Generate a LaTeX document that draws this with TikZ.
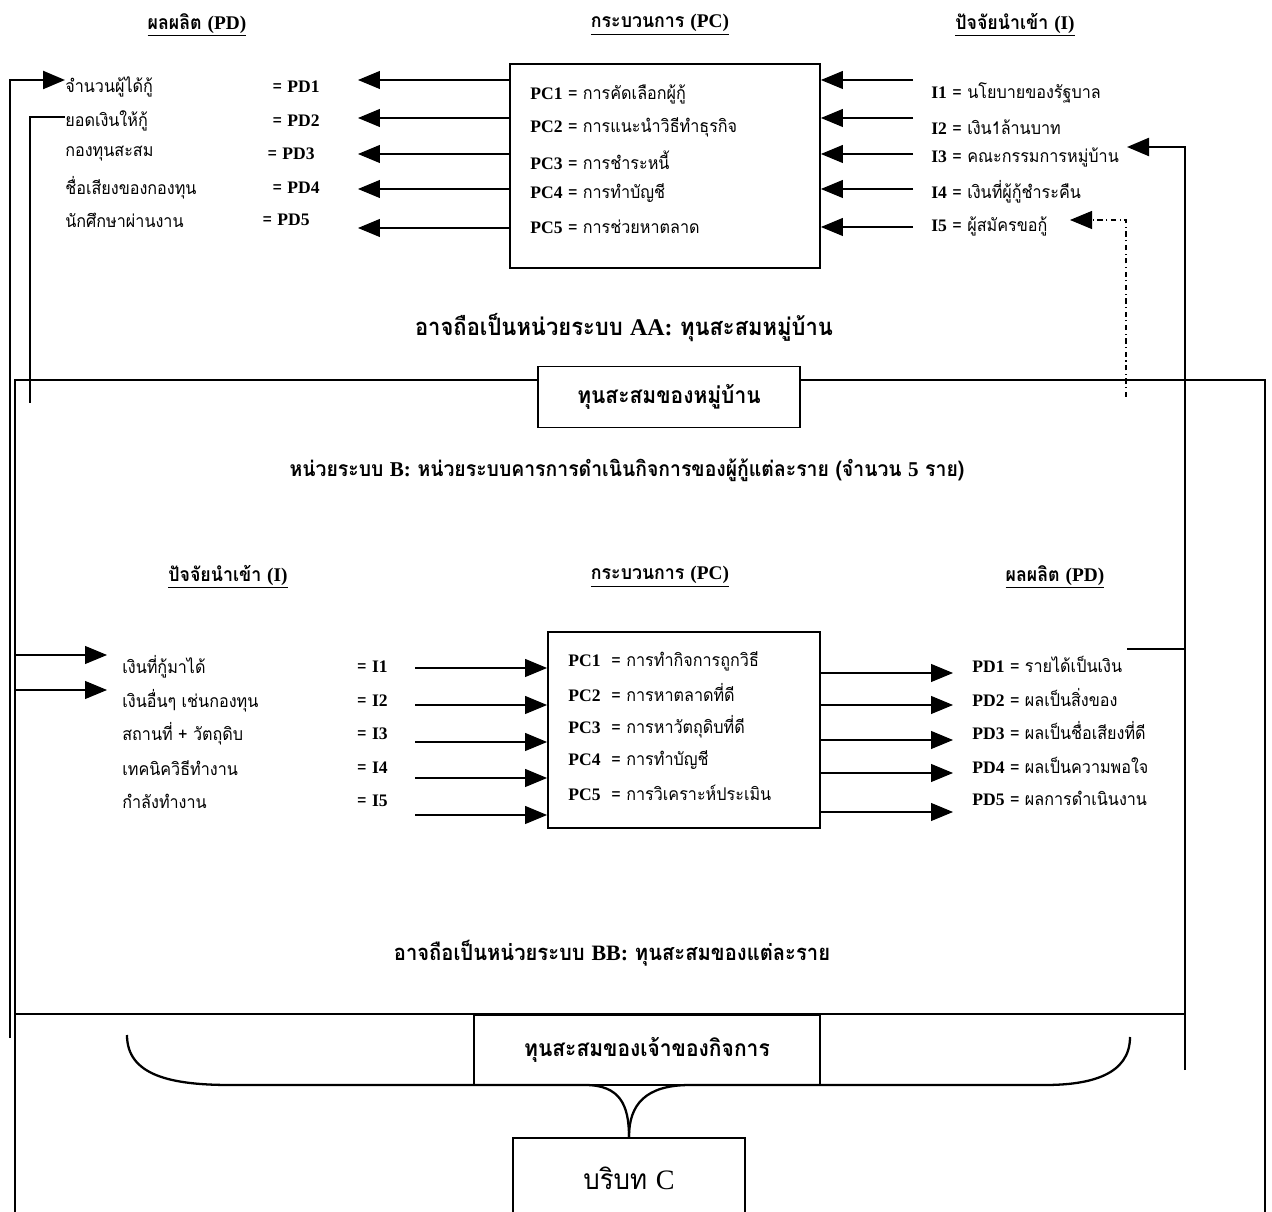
\documentclass[tikz,border=0pt]{standalone}
\usepackage{fontspec}
\setmainfont{Liberation Serif}
\newfontfamily\thaifont[Script=Thai,FakeStretch=0.92]{Loma}
\usetikzlibrary{arrows.meta}
\newcommand{\lab}[1]{{\rmfamily\bfseries #1}}

\tikzset{
  fat/.style={-{Triangle[length=0.44cm,width=0.36cm]}},
  conn/.style={line width=0.6pt},
  back/.style={line width=1.3pt},
  frame/.style={draw,line width=1.1pt,fill=white},
  item/.style={font=\thaifont\fontsize{10}{12}\selectfont,inner sep=0pt},
  head/.style={font=\thaifont\bfseries\fontsize{11}{13}\selectfont,inner sep=0pt},
  title/.style={font=\thaifont\bfseries\fontsize{13}{15}\selectfont,inner sep=0pt},
}

\begin{document}
\begin{tikzpicture}[x=0.02cm,y=-0.02cm]
\useasboundingbox (0,0) rectangle (1272,1212);

% frame of unit B and the outer context
\draw[line width=1.1pt] (15,1212) -- (15,380) -- (1265,380) -- (1265,1212);
\draw[line width=1.1pt] (15,1014) -- (1186,1014);

% upper unit A
\node[head] (hpdu) at (197,25) {\underline{ผลผลิต {\rmfamily (PD)}}};
\node[head] (hpcu) at (660,25) {\underline{กระบวนการ {\rmfamily (PC)}}};
\node[head] (hiu) at (1015,25) {\underline{ปัจจัยนำเข้า {\rmfamily (I)}}};

\node[frame,minimum width=6.2cm,minimum height=4.08cm] (pcup) at (665,166) {};
\foreach \y/\t [count=\i] in {94/การคัดเลือกผู้กู้,127/การแนะนำวิธีทำธุรกิจ,160/การชำระหนี้,193/การทำบัญชี,227/การช่วยหาตลาด}
  \node[item,anchor=west] (pcu\i) at (530,\y) {\lab{PC\i} = \t};

\foreach \y/\t/\x [count=\i] in {87/จำนวนผู้ได้กู้/320,121/ยอดเงินให้กู้/320,154/กองทุนสะสม/315,188/ชื่อเสียงของกองทุน/320,220/นักศึกษาผ่านงาน/310}
{
  \node[item,anchor=west] (pdu\i) at (65,\y) {\t};
  \node[item,anchor=east] (pdq\i) at (\x,\y) {= \lab{PD\i}};
}
\foreach \y [count=\i] in {80,118,154,189,228}
{
  \coordinate (pdt\i) at (358,\y);
  \draw[conn,fat] (pcup.west |- pdt\i) -- (pdt\i);
}

\foreach \y/\t [count=\i] in {93/นโยบายของรัฐบาล,127/เงิน1ล้านบาท,157/คณะกรรมการหมู่บ้าน,192/เงินที่ผู้กู้ชำระคืน,226/ผู้สมัครขอกู้}
  \node[item,anchor=west] (iu\i) at (931,\y) {\lab{I\i} = \t};
\foreach \y [count=\i] in {80,118,154,189,227}
{
  \coordinate (ius\i) at (913,\y);
  \draw[conn,fat] (ius\i) -- (pcup.east |- ius\i);
}

% feedback lines
\coordinate (fbl) at (10,1038);
\coordinate (fbl2) at (30,403);
\draw[back,fat] (fbl) |- ([yshift=0.14cm]pdu1.west);
\draw[back] (fbl2) |- ([yshift=0.08cm]pdu2.west);
\coordinate (fbr) at (1185,1070);
\coordinate (i3in) at (1127,147);
\draw[back,fat] (fbr) |- (i3in);
\coordinate (i5src) at (1126,397);
\coordinate (i5in) at (1070,220);
\draw[conn,dash dot,fat] (i5src) |- (i5in);

\node[title,font=\thaifont\bfseries\fontsize{13.6}{16}\selectfont] (aa) at (624,328) {อาจถือเป็นหน่วยระบบ {\rmfamily AA:} ทุนสะสมหมู่บ้าน};
\node[frame,title,minimum width=5.24cm,minimum height=1.22cm] (vfund) at (669,397) {ทุนสะสมของหมู่บ้าน};
\node[title,font=\thaifont\bfseries\fontsize{12}{14}\selectfont] (unitb) at (627,470) {หน่วยระบบ {\rmfamily B:} หน่วยระบบคารการดำเนินกิจการของผู้กู้แต่ละราย (จำนวน {\rmfamily 5} ราย)};

% lower unit B
\node[head] (hil) at (228,577) {\underline{ปัจจัยนำเข้า {\rmfamily (I)}}};
\node[head] (hpcl) at (660,577) {\underline{กระบวนการ {\rmfamily (PC)}}};
\node[head] (hpdl) at (1055,577) {\underline{ผลผลิต {\rmfamily (PD)}}};

\node[frame,minimum width=5.44cm,minimum height=3.92cm] (pclo) at (684,730) {};
\foreach \y/\t [count=\i] in {661/การทำกิจการถูกวิธี,693/การหาตลาดที่ดี,727/การหาวัตถุดิบที่ดี,760/การทำบัญชี,793/การวิเคราะห์ประเมิน}
  \node[item,anchor=west] (pcl\i) at (568,\y) {\lab{PC\i}\ \ = \t};

\foreach \y/\t [count=\i] in {667/เงินที่กู้มาได้,701/เงินอื่นๆ เช่นกองทุน,734/สถานที่ + วัตถุดิบ,768/เทคนิควิธีทำงาน,801/กำลังทำงาน}
{
  \node[item,anchor=west] (il\i) at (122,\y) {\t};
  \node[item,anchor=east] (iq\i) at (388,\y) {= \lab{I\i}};
}
\foreach \y [count=\i] in {668,705,742,778,815}
{
  \coordinate (ils\i) at (415,\y);
  \draw[conn,fat] (ils\i) -- (pclo.west |- ils\i);
}
\coordinate (fi1) at (15,655);
\coordinate (ti1) at (107,655);
\coordinate (fi2) at (15,690);
\coordinate (ti2) at (107,690);
\draw[conn,fat] (fi1) -- (ti1);
\draw[conn,fat] (fi2) -- (ti2);

\foreach \y/\t [count=\i] in {664/รายได้เป็นเงิน,698/ผลเป็นสิ่งของ,731/ผลเป็นชื่อเสียงที่ดี,765/ผลเป็นความพอใจ,798/ผลการดำเนินงาน}
  \node[item,anchor=west] (pdl\i) at (972,\y) {\lab{PD\i} = \t};
\foreach \y [count=\i] in {673,705,740,773,812}
{
  \coordinate (pdo\i) at (953,\y);
  \draw[conn,fat] (pclo.east |- pdo\i) -- (pdo\i);
}
\coordinate (pdfb) at (1127,649);
\draw[line width=0.9pt] (pdfb) -- (fbr |- pdfb);

\node[title,font=\thaifont\bfseries\fontsize{12.5}{14}\selectfont] (bb) at (612,953) {อาจถือเป็นหน่วยระบบ {\rmfamily BB:} ทุนสะสมของแต่ละราย};

% owner's fund, brace and context C
\node[frame,title,minimum width=6.92cm,minimum height=1.4cm] (ofund) at (647,1050) {ทุนสะสมของเจ้าของกิจการ};
\node[frame,minimum width=4.64cm,minimum height=1.6cm,anchor=north,font=\thaifont\fontsize{16}{18}\selectfont] (ctx) at (629,1137) {บริบท {\rmfamily C}};
\draw[line width=1.3pt] (127,1035) .. controls (127,1075) and (170,1085) .. (230,1085) -- (585,1085)
  .. controls (620,1085) and (629,1105) .. (ctx.north);
\draw[line width=1.3pt] (1130,1037) .. controls (1130,1075) and (1090,1085) .. (1045,1085) -- (690,1085)
  .. controls (645,1085) and (629,1105) .. (ctx.north);
\end{tikzpicture}
\end{document}
